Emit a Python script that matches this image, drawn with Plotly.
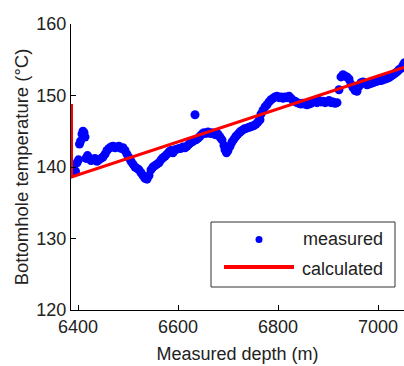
import plotly.graph_objects as go

# Measured bottomhole temperature (depth in m, temperature in °C)
meas_depth = [6386, 6389, 6392, 6395, 6398, 6401, 6403, 6405, 6408, 6410, 6412, 6414, 6416, 6419, 6422,
              6426, 6430, 6434, 6438, 6442, 6446, 6450, 6454, 6458, 6462, 6466, 6470, 6474, 6478, 6482,
              6486, 6490, 6494, 6498, 6502, 6506, 6510, 6514, 6518, 6522, 6526, 6530, 6534, 6538, 6542,
              6546, 6550, 6554, 6558, 6562, 6566, 6570, 6574, 6578, 6582, 6586, 6590, 6594, 6598, 6602,
              6606, 6610, 6614, 6618, 6622, 6626, 6630, 6634, 6636, 6640, 6644, 6648, 6652, 6656, 6660,
              6664, 6668, 6672, 6676, 6680, 6684, 6688, 6692, 6694, 6697, 6700, 6704, 6708, 6712, 6716,
              6720, 6724, 6728, 6732, 6736, 6740, 6744, 6748, 6752, 6756, 6760, 6764, 6766, 6770, 6774,
              6778, 6782, 6786, 6790, 6794, 6798, 6802, 6806, 6810, 6814, 6818, 6822, 6826, 6830, 6834,
              6838, 6842, 6846, 6850, 6854, 6858, 6862, 6866, 6870, 6874, 6878, 6882, 6886, 6890, 6894,
              6898, 6902, 6906, 6910, 6914, 6918, 6922, 6926, 6930, 6934, 6938, 6942, 6946, 6950, 6954,
              6958, 6962, 6966, 6970, 6974, 6978, 6982, 6986, 6990, 6994, 6998, 7002, 7006, 7010, 7014,
              7018, 7022, 7026, 7030, 7034, 7038, 7042, 7046, 7050, 7053]
meas_temp = [139.8, 140.2, 139.6, 139.4, 140.6, 141.0, 143.2, 143.6, 144.6, 145.0, 144.8, 144.2, 141.2, 141.6, 141.3,
             140.9, 141.0, 141.2, 140.8, 141.0, 141.2, 141.4, 141.8, 142.3, 142.6, 142.8, 142.9, 142.7, 142.8, 142.9,
             142.6, 142.7, 142.3, 141.8, 141.3, 140.8, 140.4, 140.0, 139.8, 139.6, 139.2, 138.8, 138.4, 138.3, 138.8,
             139.6, 140.0, 140.2, 140.4, 140.6, 141.0, 141.3, 141.5, 141.8, 142.1, 142.3, 142.0, 142.4, 142.5, 142.6,
             142.6, 142.8, 142.7, 142.9, 143.2, 143.4, 143.6, 147.3, 143.8, 144.0, 144.3, 144.6, 144.8, 144.7, 144.9,
             144.7, 144.8, 144.6, 144.5, 144.6, 144.2, 143.8, 143.0, 142.4, 142.0, 142.3, 142.9, 143.5, 143.9, 144.3,
             144.6, 144.9, 145.1, 145.3, 145.4, 145.5, 145.6, 145.7, 145.8, 146.0, 146.3, 146.6, 147.4, 147.9, 148.4,
             148.7, 149.1, 149.4, 149.6, 149.8, 149.9, 149.7, 149.8, 149.6, 149.8, 149.7, 149.9, 149.6, 149.3, 149.2,
             149.0, 148.9, 148.8, 148.9, 148.8, 148.7, 148.8, 148.9, 149.1, 149.2, 149.0, 149.3, 149.1, 149.2, 149.0,
             149.1, 149.3, 149.0, 149.1, 148.9, 149.0, 150.8, 152.6, 152.9, 152.7, 152.6, 152.3, 151.6, 151.1, 150.7,
             150.6, 151.3, 151.8, 151.9, 151.7, 151.5, 151.6, 151.7, 151.8, 151.9, 152.0, 152.1, 152.1, 152.2, 152.3,
             152.4, 152.5, 152.7, 152.9, 153.1, 153.3, 153.6, 153.8, 154.2, 154.6]

# Calculated temperature profile
calc_depth = [6387, 6387, 7055]
calc_temp = [148.8, 138.6, 154.0]

x_ticks = [6400, 6600, 6800, 7000]
y_ticks = [120, 130, 140, 150, 160]

font_color = "#222222"
fam = "Liberation Sans, Arial, sans-serif"

fig = go.Figure()
fig.add_trace(go.Scatter(x=meas_depth, y=meas_temp, mode="markers", name="measured",
                         marker=dict(color="#0000FF", size=9, line=dict(width=0)),
                         showlegend=False))
fig.add_trace(go.Scatter(x=calc_depth, y=calc_temp, mode="lines", name="calculated",
                         line=dict(color="#FF0000", width=3), showlegend=False))

# Legend drawn manually (box, symbols, labels) in pixel-like paper coordinates
W, H = 404, 366
ml, mr, mt, mb = 71, 0, 24, 56
pw, ph = W - ml - mr, H - mt - mb

def px(xp):
    return (xp - ml) / pw

def py(yp):
    return 1 - (yp - mt) / ph

shapes = [
    dict(type="rect", xref="paper", yref="paper", x0=px(211), x1=px(395), y0=py(287), y1=py(222),
         line=dict(color="#333333", width=1), fillcolor="white", layer="above"),
    dict(type="line", xref="paper", yref="paper", x0=px(224), x1=px(294), y0=py(267), y1=py(267),
         line=dict(color="#FF0000", width=4), layer="above"),
    dict(type="circle", xref="paper", yref="paper", x0=px(255.5), x1=px(262.5), y0=py(243), y1=py(236),
         line=dict(color="#0000FF", width=0), fillcolor="#0000FF", layer="above"),
]
annotations = [
    dict(text="measured", xref="paper", yref="paper", x=px(385), y=py(239), xanchor="right",
         yanchor="middle", showarrow=False, font=dict(size=18, color=font_color, family=fam)),
    dict(text="calculated", xref="paper", yref="paper", x=px(385), y=py(269), xanchor="right",
         yanchor="middle", showarrow=False, font=dict(size=18, color=font_color, family=fam)),
]

fig.update_layout(
    width=W, height=H,
    margin=dict(l=ml, r=mr, t=mt, b=mb),
    paper_bgcolor="white", plot_bgcolor="white",
    font=dict(family=fam, size=18, color=font_color),
    shapes=shapes, annotations=annotations,
    xaxis=dict(range=[6386, 7052], tickvals=x_ticks, ticks="inside", ticklen=5, tickcolor="black",
               showline=True, linecolor="black", linewidth=1, showgrid=False, zeroline=False,
               title=dict(text="Measured depth (m)", standoff=11, font=dict(size=18)),
               tickfont=dict(size=18)),
    yaxis=dict(range=[120, 160], tickvals=y_ticks, ticks="inside", ticklen=5, tickcolor="black",
               showline=True, linecolor="black", linewidth=1, showgrid=False, zeroline=False,
               title=dict(text="Bottomhole temperature (°C)", standoff=2, font=dict(size=18.5)),
               tickfont=dict(size=18)),
)

fig.write_html("out.html")
